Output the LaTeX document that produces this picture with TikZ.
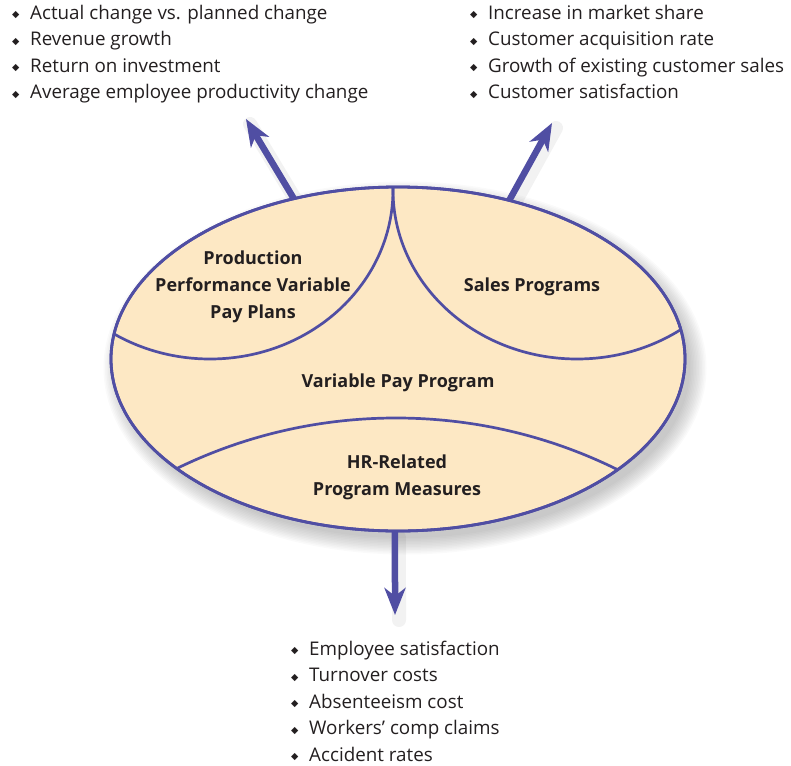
\documentclass[tikz,border=0pt]{standalone}
\usepackage{fontspec}
\setmainfont{Open Sans}
\newfontfamily\symfont{DejaVu Sans}
\usepackage{xcolor}
\usepackage{tikz}
\usetikzlibrary{positioning,arrows.meta,shapes.geometric}
\definecolor{iris}{RGB}{80,78,163}
\definecolor{peach}{RGB}{253,232,196}
\definecolor{ink}{RGB}{35,31,32}
\pgfdeclarelayer{shade}
\pgfdeclarelayer{arrowlayer}
\pgfsetlayers{shade,arrowlayer,main}
\newcommand\bulletmark{\makebox[18pt][l]{\raisebox{1.5pt}{\symfont\fontsize{9.5}{9.5}\selectfont ◆}}}

\begin{document}
\begin{tikzpicture}[
  x=1pt, y=-1pt,
  program/.style={ellipse, draw=iris, line width=2.8pt, fill=peach, minimum width=574pt, minimum height=344pt, inner sep=0pt},
  divider/.style={draw=iris, line width=2.7pt},
  label/.style={align=center, font=\fontsize{18}{27}\selectfont\bfseries, text=ink},
  measures/.style={align=left, anchor=base west, inner sep=0pt, font=\fontsize{18.8}{26.5}\selectfont, text=ink},
  arr/.style={-{Stealth[length=27pt 0, width=21pt 0, inset=8pt 0]}, line width=6.5pt, iris, shorten <=-8pt},
  arrshade/.style={line width=14pt, black, opacity=0.05, line cap=round}
]
\useasboundingbox (0,0) rectangle (791,765);

\node[program] (vpp) at (398,359) {};

% soft shadow behind the ellipse
\begin{pgfonlayer}{shade}
  \foreach \k in {0,...,11}
    \fill[black, opacity=0.02] (405,368) ellipse [x radius=285+\k*1.5, y radius=170+\k*1.5];
\end{pgfonlayer}

% sub-areas inside the ellipse
\begin{scope}
  \clip (398,359) ellipse [x radius=287, y radius=172];
  \draw[divider] (210,190) ellipse [x radius=183, y radius=169];
  \draw[divider] (577,190) ellipse [x radius=184, y radius=169];
  \draw[divider] (396,918) circle [radius=500];
\end{scope}
\draw[iris, line width=2.8pt] (398,359) ellipse [x radius=287, y radius=172];

\node[label] (prod) at (253,287) {Production\\Performance Variable\\Pay Plans};
\node[label] (sales) at (532,287) {Sales Programs};
\node[label] (pay) at (398,383) {Variable Pay Program};
\node[label] (hr) at (397,477) {HR-Related\\Program Measures};

\node[measures] (prodlist) at (12,99) {\bulletmark Actual change vs. planned change\\
  \bulletmark Revenue growth\\
  \bulletmark Return on investment\\
  \bulletmark Average employee productivity change};
\node[measures] (saleslist) at (470,99) {\bulletmark Increase in market share\\
  \bulletmark Customer acquisition rate\\
  \bulletmark Growth of existing customer sales\\
  \bulletmark Customer satisfaction};
\node[measures] (hrlist) at (291,761) {\bulletmark Employee satisfaction\\
  \bulletmark Turnover costs\\
  \bulletmark Absenteeism cost\\
  \bulletmark Workers' comp claims\\
  \bulletmark Accident rates};

\coordinate (tipprod) at (246,119);
\coordinate (tipsales) at (552,123);
\coordinate (tiphr) at (395,615);

\begin{pgfonlayer}{shade}
  \draw[arrshade] ([shift={(4,5)}]vpp.123.9) -- ([shift={(4,5)}]tipprod);
  \draw[arrshade] ([shift={(4,5)}]vpp.55.9) -- ([shift={(4,5)}]tipsales);
  \draw[arrshade] ([shift={(4,5)}]vpp.269) -- ([shift={(4,5)}]tiphr);
\end{pgfonlayer}
\begin{pgfonlayer}{arrowlayer}
  \draw[arr] (vpp.123.9) -- (tipprod);
  \draw[arr] (vpp.55.9) -- (tipsales);
  \draw[arr] (vpp.269) -- (tiphr);
\end{pgfonlayer}
\end{tikzpicture}
\end{document}
